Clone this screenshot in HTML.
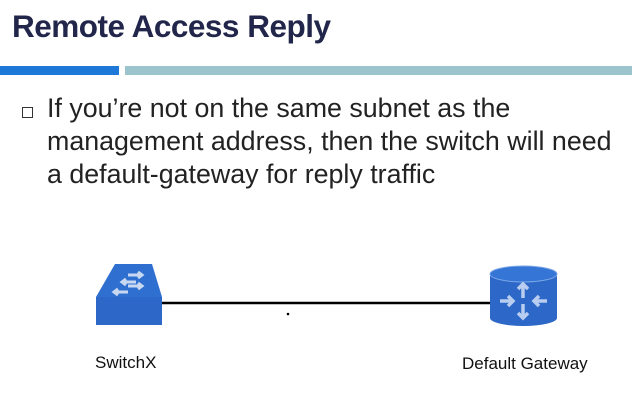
<!DOCTYPE html>
<html><head><style>
body{margin:0;width:632px;height:411px;background:#fff;position:relative;overflow:hidden;font-family:"Liberation Sans",sans-serif}
.t{position:absolute;left:12px;top:8px;font-size:31.5px;font-weight:bold;color:#22264a;letter-spacing:-0.5px}
.b1{position:absolute;left:0;top:66px;width:119px;height:9px;background:#1e78d8}
.b2{position:absolute;left:125px;top:66px;width:507px;height:9px;background:#9bc4cc}
.p{position:absolute;left:47px;top:92px;font-size:26.8px;line-height:33px;color:#222;white-space:nowrap}
.sq{position:absolute;left:22px;top:107px;width:9px;height:9px;border:1px solid #333}
.l{position:absolute;font-size:17px;color:#111;white-space:nowrap}
</style></head><body>
<div class="t">Remote Access Reply</div>
<div class="b1"></div><div class="b2"></div>
<div class="sq"></div>
<div class="p">If you’re not on the same subnet as the<br>management address, then the switch will need<br>a default-gateway for reply traffic</div>
<svg width="632" height="411" style="position:absolute;left:0;top:0">
<line x1="160" y1="303" x2="492" y2="303" stroke="#000" stroke-width="2.5"/>
<circle cx="288" cy="314" r="1.3" fill="#000"/>
<polygon points="96,297 115,264 152,264 162,297" fill="#2f6fd0"/>
<rect x="96" y="297" width="66" height="28" fill="#2d68c8"/>
<g stroke="#c8d8f0" stroke-width="3" fill="none">
<path d="M128,275 h14 m-4,-3 l4,3 l-4,3"/><path d="M136,282 h-14 m4,-3 l-4,3 l4,3"/>
<path d="M128,286 h14 m-4,-3 l4,3 l-4,3"/><path d="M128,292 h-14 m4,-3 l-4,3 l4,3"/>
</g>
<path d="M490,274 v44 a33.5,8 0 0 0 67,0 v-44 z" fill="#2d68c8"/>
<ellipse cx="523.5" cy="274" rx="33.5" ry="8" fill="#3575d6" stroke="#7aa6e6" stroke-width="1"/>
<g stroke="#b8cdf0" stroke-width="3.5" fill="none">
<path d="M523,298 v-14 m-5,5 l5,-5 l5,5"/><path d="M523,304 v14 m-5,-5 l5,5 l5,-5"/>
<path d="M500,301 h13 m-5,-5 l5,5 l-5,5"/><path d="M547,301 h-13 m5,-5 l-5,5 l5,5"/>
</g>
</svg>
<div class="l" style="left:95px;top:353px">SwitchX</div>
<div class="l" style="left:462px;top:354px">Default Gateway</div>
</body></html>
